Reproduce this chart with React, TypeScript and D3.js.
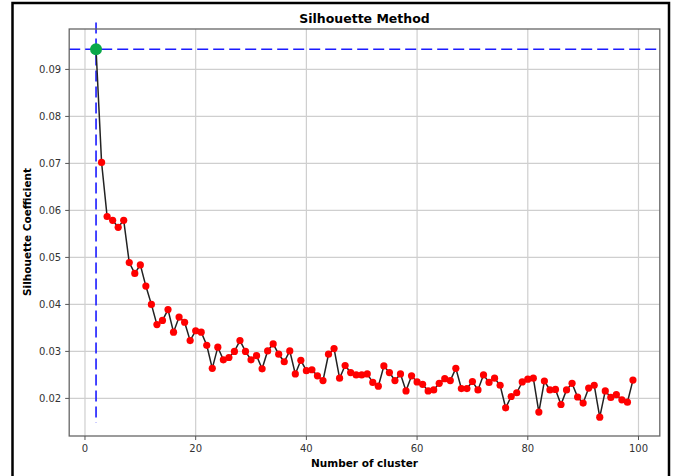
import React from 'react';
import * as d3 from 'd3';

// number of clusters tried
const clusters: number[] = d3.range(2, 100);

// silhouette score for each k
const scores: number[] = [
  0.0943, 0.0702, 0.0587, 0.0579, 0.0564, 0.0579, 0.0489, 0.0466, 0.0484, 0.0439,
  0.0400, 0.0357, 0.0366, 0.0389, 0.0341, 0.0373, 0.0362, 0.0323, 0.0344, 0.0341,
  0.0313, 0.0264, 0.0309, 0.0282, 0.0287, 0.0300, 0.0323, 0.0300, 0.0282, 0.0291,
  0.0263, 0.0301, 0.0316, 0.0294, 0.0278, 0.0301, 0.0252, 0.0281, 0.0259, 0.0261,
  0.0248, 0.0238, 0.0294, 0.0306, 0.0243, 0.0270, 0.0255, 0.0250, 0.0250, 0.0252,
  0.0234, 0.0226, 0.0269, 0.0255, 0.0238, 0.0252, 0.0216, 0.0248, 0.0235, 0.0230,
  0.0216, 0.0218, 0.0232, 0.0242, 0.0238, 0.0264, 0.0221, 0.0221, 0.0236, 0.0218,
  0.0250, 0.0234, 0.0243, 0.0228, 0.0180, 0.0204, 0.0212, 0.0235, 0.0241, 0.0243,
  0.0171, 0.0237, 0.0218, 0.0219, 0.0187, 0.0218, 0.0232, 0.0203, 0.0190, 0.0222,
  0.0228, 0.0160, 0.0216, 0.0202, 0.0208, 0.0197, 0.0192, 0.0239,
];

const xTicks: number[] = [0, 20, 40, 60, 80, 100];
const yTicks: number[] = [0.02, 0.03, 0.04, 0.05, 0.06, 0.07, 0.08, 0.09];

// best k and its score
const bestK = 2;
const bestScore = 0.0943;

const W = 678;
const H = 476;
const plot = { left: 69.2, right: 659.8, top: 29, bottom: 436 };
const font = '"DejaVu Sans", sans-serif';

export default function App() {
  const x = d3.scaleLinear().domain([-2.85, 103.85]).range([plot.left, plot.right]);
  const y = d3.scaleLinear().domain([0.012, 0.0986]).range([plot.bottom, plot.top]);

  const pts = clusters.map((k, i) => ({ k, v: scores[i] }));
  const line = d3.line<{ k: number; v: number }>().x(d => x(d.k)).y(d => y(d.v));

  return (
    <svg width={W} height={H} style={{ position: 'absolute', left: 0, top: 0, background: '#fff' }}>
      <rect x={0} y={0} width={W} height={H} fill="#fff" />
      {/* outer frame */}
      <rect x={12.5} y={3} width={656.5} height={500} fill="none" stroke="#000" strokeWidth={2.5} />

      <text x={(plot.left + plot.right) / 2} y={18} textAnchor="middle" dominantBaseline="central"
        fontFamily={font} fontWeight="bold" fontSize={12.5} fill="#000">Silhouette Method</text>

      {/* grid */}
      <g stroke="#cfcfcf" strokeWidth={1.2}>
        {xTicks.map(t => <line key={'gx' + t} x1={x(t)} x2={x(t)} y1={plot.top} y2={plot.bottom} />)}
        {yTicks.map(t => <line key={'gy' + t} x1={plot.left} x2={plot.right} y1={y(t)} y2={y(t)} />)}
      </g>

      {/* best-k guides */}
      <line x1={plot.left} x2={plot.right} y1={y(bestScore)} y2={y(bestScore)}
        stroke="#1a1aff" strokeWidth={1.6} strokeDasharray="11,5" />
      <line x1={x(bestK)} x2={x(bestK)} y1={y(0.1)} y2={y(0.0148)}
        stroke="#1a1aff" strokeWidth={1.6} strokeDasharray="11,5" />

      <path d={line(pts) || ''} fill="none" stroke="#222" strokeWidth={1.5} />
      {pts.map(p => <circle key={p.k} cx={x(p.k)} cy={y(p.v)} r={3.6} fill="#ff0000" />)}
      <circle cx={x(bestK)} cy={y(bestScore)} r={6} fill="#0aa84a" />

      {/* spines */}
      <rect x={plot.left} y={plot.top} width={plot.right - plot.left} height={plot.bottom - plot.top}
        fill="none" stroke="#666" strokeWidth={1.3} />

      {/* x axis */}
      {xTicks.map(t => (
        <g key={'xt' + t}>
          <line x1={x(t)} x2={x(t)} y1={plot.bottom} y2={plot.bottom + 4} stroke="#555" strokeWidth={1} />
          <text x={x(t)} y={448} textAnchor="middle" dominantBaseline="central"
            fontFamily={font} fontSize={10} fill="#333">{t}</text>
        </g>
      ))}
      <text x={(plot.left + plot.right) / 2} y={463} textAnchor="middle" dominantBaseline="central"
        fontFamily={font} fontWeight="bold" fontSize={10.5} fill="#000">Number of cluster</text>

      {/* y axis */}
      {yTicks.map(t => (
        <g key={'yt' + t}>
          <line x1={plot.left - 4} x2={plot.left} y1={y(t)} y2={y(t)} stroke="#555" strokeWidth={1} />
          <text x={plot.left - 8} y={y(t)} textAnchor="end" dominantBaseline="central"
            fontFamily={font} fontSize={10} fill="#333">{d3.format('.2f')(t)}</text>
        </g>
      ))}
      <text transform={`translate(27,232) rotate(-90)`} textAnchor="middle" dominantBaseline="central"
        fontFamily={font} fontWeight="bold" fontSize={10.5} fill="#000">Silhouette Coefficient</text>
    </svg>
  );
}
